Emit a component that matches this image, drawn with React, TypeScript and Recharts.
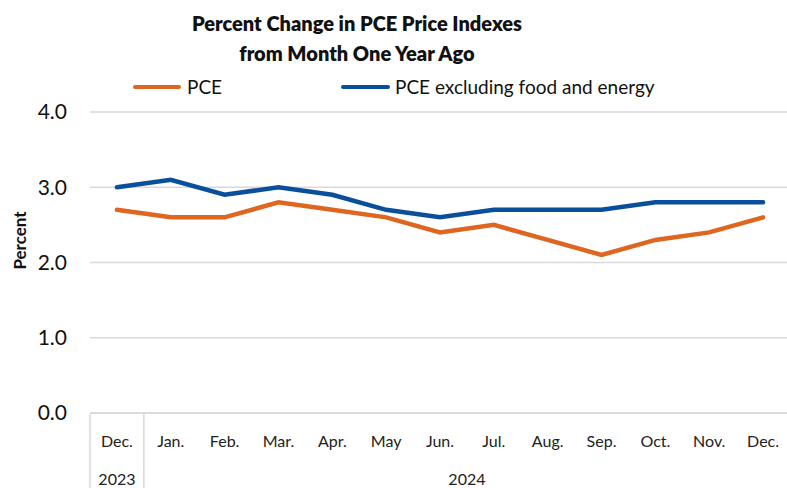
import React from 'react';
import { LineChart, Line, XAxis, YAxis, CartesianGrid } from 'recharts';

const months = ['Dec.', 'Jan.', 'Feb.', 'Mar.', 'Apr.', 'May', 'Jun.', 'Jul.', 'Aug.', 'Sep.', 'Oct.', 'Nov.', 'Dec.'];
const pce = [2.7, 2.6, 2.6, 2.8, 2.7, 2.6, 2.4, 2.5, 2.3, 2.1, 2.3, 2.4, 2.6];
const coreFE = [3.0, 3.1, 2.9, 3.0, 2.9, 2.7, 2.6, 2.7, 2.7, 2.7, 2.8, 2.8, 2.8];
const years = ['2023', '2024'];
const yearSpans = [1, 12];
const yTicks = [0, 1, 2, 3, 4];

const FONT = 'Lato, "Open Sans", sans-serif';
const ORANGE = '#DF6620';
const BLUE = '#0A4F9B';
const GRID = '#d9d9d9';

const CHART_W = 800;
const CHART_H = 488;
const LEFT = 90;
const RIGHT = 10;
const BAND = (CHART_W - LEFT - RIGHT) / months.length;

const data = months.map((m, i) => ({ idx: i, month: m, pce: pce[i], core: coreFE[i] }));

// index where each year starts
const yearStarts: number[] = [];
let acc = 0;
yearSpans.forEach((s) => { yearStarts.push(acc); acc += s; });

const MonthTick = (props: any) => {
  const { x, y, payload } = props;
  const i = payload.value as number;
  const yi = yearStarts.indexOf(i);
  return (
    <g>
      <text x={x} y={y + 32} textAnchor="middle" fontSize={16} fontFamily={FONT} fill="#222">
        {months[i]}
      </text>
      {yi >= 0 && (
        <>
          <line x1={x - BAND / 2} x2={x - BAND / 2} y1={y - 1} y2={y + 80} stroke={GRID} strokeWidth={1.5} />
          <text x={x + ((yearSpans[yi] - 1) * BAND) / 2} y={y + 70} textAnchor="middle" fontSize={16} fontFamily={FONT} fill="#222">
            {years[yi]}
          </text>
        </>
      )}
    </g>
  );
};

const PercentLabel = (props: any) => {
  const vb = props.viewBox || { y: 112, height: 301 };
  const cx = 19;
  const cy = vb.y + vb.height / 2 - 22;
  return (
    <text x={cx} y={cy} transform={`rotate(-90 ${cx} ${cy})`} textAnchor="middle" dominantBaseline="central" fontSize={17} fontWeight={700} fontFamily={FONT} fill="#111">
      Percent
    </text>
  );
};

const LegendBox = () => (
  <div style={{ position: 'absolute', left: 0, top: 75, width: 787, height: 24, fontFamily: FONT, fontSize: 19, color: '#111' }}>
    <div style={{ position: 'absolute', left: 133, top: 10, width: 48, height: 4, borderRadius: 2, background: ORANGE }} />
    <span style={{ position: 'absolute', left: 187, top: 0 }}>PCE</span>
    <div style={{ position: 'absolute', left: 341, top: 10, width: 49, height: 4, borderRadius: 2, background: BLUE }} />
    <span style={{ position: 'absolute', left: 395, top: 0 }}>PCE excluding food and energy</span>
  </div>
);

export default function App() {
  return (
    <div style={{ position: 'absolute', left: 0, top: 0, width: 787, height: 488, overflow: 'hidden', background: '#fff' }}>
      <LineChart width={CHART_W} height={CHART_H} data={data} margin={{ top: 112, right: RIGHT, bottom: 0, left: 0 }}>
        <CartesianGrid horizontal vertical={false} stroke={GRID} strokeWidth={1.5} />
        <XAxis
          dataKey="idx"
          type="category"
          scale="band"
          height={75}
          axisLine={{ stroke: GRID, strokeWidth: 1.5 }}
          tickLine={false}
          tickSize={0}
          interval={0}
          tick={<MonthTick />}
        />
        <YAxis
          width={LEFT}
          domain={[0, 4]}
          ticks={yTicks}
          tickFormatter={(v: number) => v.toFixed(1)}
          axisLine={false}
          tickLine={false}
          tickSize={0}
          tickMargin={23}
          tick={{ fontSize: 21, fontFamily: FONT, fill: '#111' }}
          label={<PercentLabel />}
        />
        <Line dataKey="pce" name="PCE" stroke={ORANGE} strokeWidth={4.5} strokeLinecap="round" dot={false} isAnimationActive={false} />
        <Line dataKey="core" name="PCE excluding food and energy" stroke={BLUE} strokeWidth={4.5} strokeLinecap="round" dot={false} isAnimationActive={false} />
      </LineChart>
      <div style={{ position: 'absolute', left: 0, top: 8, width: 714, textAlign: 'center', fontFamily: FONT, fontWeight: 800, fontSize: 20, lineHeight: '30px', color: '#111' }}>
        Percent Change in PCE Price Indexes
        <br />
        from Month One Year Ago
      </div>
      <LegendBox />
    </div>
  );
}
